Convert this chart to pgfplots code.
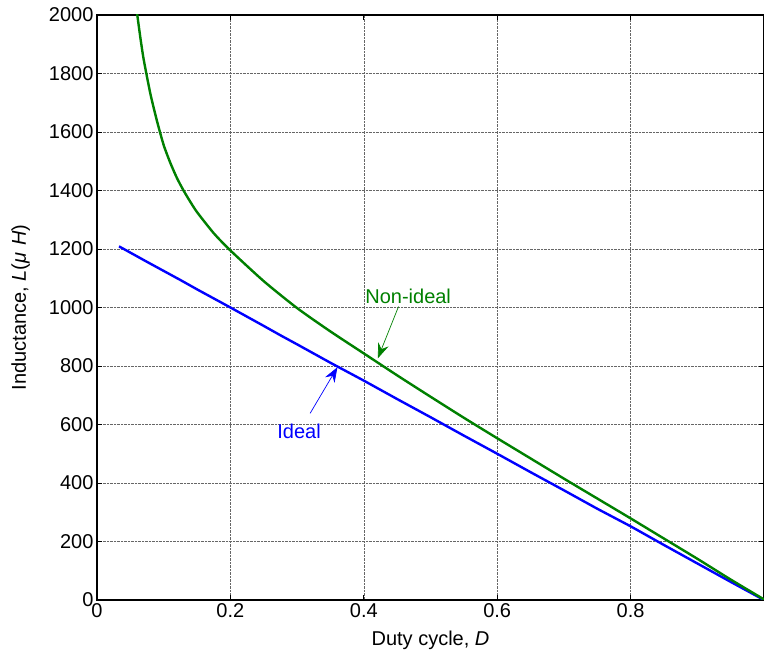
\documentclass[border=0pt]{standalone}
\usepackage{fontspec}
\setmainfont{Liberation Sans}
\usepackage{pgfplots}
\pgfplotsset{compat=1.18}
\usetikzlibrary{arrows.meta}
\definecolor{mgreen}{rgb}{0,0.5,0}
\definecolor{mblue}{rgb}{0,0,1}
\newcommand{\fs}{\fontsize{20}{23}\selectfont}
\begin{document}
\begin{tikzpicture}
\begin{axis}[
  scale only axis,
  width=667pt, height=585pt,
  xmin=0, xmax=1, ymin=0, ymax=2000,
  xtick={0,0.2,0.4,0.6,0.8,1},
  xticklabels={0,0.2,0.4,0.6,0.8,{}},
  ytick={0,200,400,600,800,1000,1200,1400,1600,1800,2000},
  /pgf/number format/assume math mode=true,
  scaled y ticks=false,
  y tick label style={/pgf/number format/1000 sep={}},
  tick label style={font=\fs},
  label style={font=\fs, inner sep=0pt},
  tick align=inside,
  major tick length=5pt,
  axis line style={line width=1.4pt, black},
  every tick/.style={black, line width=0.8pt},
  grid=major,
  major grid style={densely dotted, line width=0.6pt, black!60},
  xlabel={Duty cycle, \textit{D}},
  ylabel={Inductance, \textit{L}(\textit{μ\,\,H})},
  xlabel style={at={(axis description cs:0.5,-0.053)}, anchor=north},
  ylabel style={at={(axis description cs:-0.1,0.5)}, anchor=south},
]
\addplot[mblue, line width=2.4pt] coordinates {
 (0.033,1209) (0.075,1156) (0.1,1125) (0.125,1094) (0.15,1062) (0.2,1000)
 (0.25,937) (0.275,905) (0.3,874) (0.35,811) (0.4,750) (0.45,687)
 (0.5,625) (0.55,562) (0.6,500) (0.65,437) (0.7,375) (0.75,312)
 (0.8,252) (0.85,188) (0.9,125) (0.95,62) (1.0,0)
};
\addplot[mgreen, line width=2.4pt, smooth, tension=0.4] coordinates {
 (0.058,2060) (0.06,2008) (0.065,1923) (0.07,1848) (0.08,1731) (0.09,1637)
 (0.1,1555) (0.11,1494) (0.12,1442) (0.13,1399) (0.14,1361) (0.15,1326)
 (0.175,1254) (0.2,1195) (0.25,1090) (0.3,998) (0.35,918) (0.4,843)
 (0.45,768) (0.5,695) (0.55,623) (0.6,553) (0.65,484) (0.7,415)
 (0.75,347) (0.8,279) (0.85,210) (0.9,141) (0.95,70) (1.0,2)
};
\node[mgreen, font=\fs, inner sep=0pt] at (axis cs:0.4665,1039) {Non-ideal};
\draw[mgreen, line width=0.7pt, -{Stealth[length=15pt,width=11pt,inset=5pt]}]
  (axis cs:0.452,1003) -- (axis cs:0.421,826);
\node[mblue, font=\fs, inner sep=0pt] at (axis cs:0.303,578) {Ideal};
\draw[mblue, line width=0.7pt, -{Stealth[length=15pt,width=11pt,inset=5pt]}]
  (axis cs:0.3195,638) -- (axis cs:0.3605,796);
\end{axis}
\pgfresetboundingbox
\path[use as bounding box] ([xshift=-97pt,yshift=-57pt]current axis.south west) rectangle ([yshift=15pt]current axis.north east);
\end{tikzpicture}
\end{document}
